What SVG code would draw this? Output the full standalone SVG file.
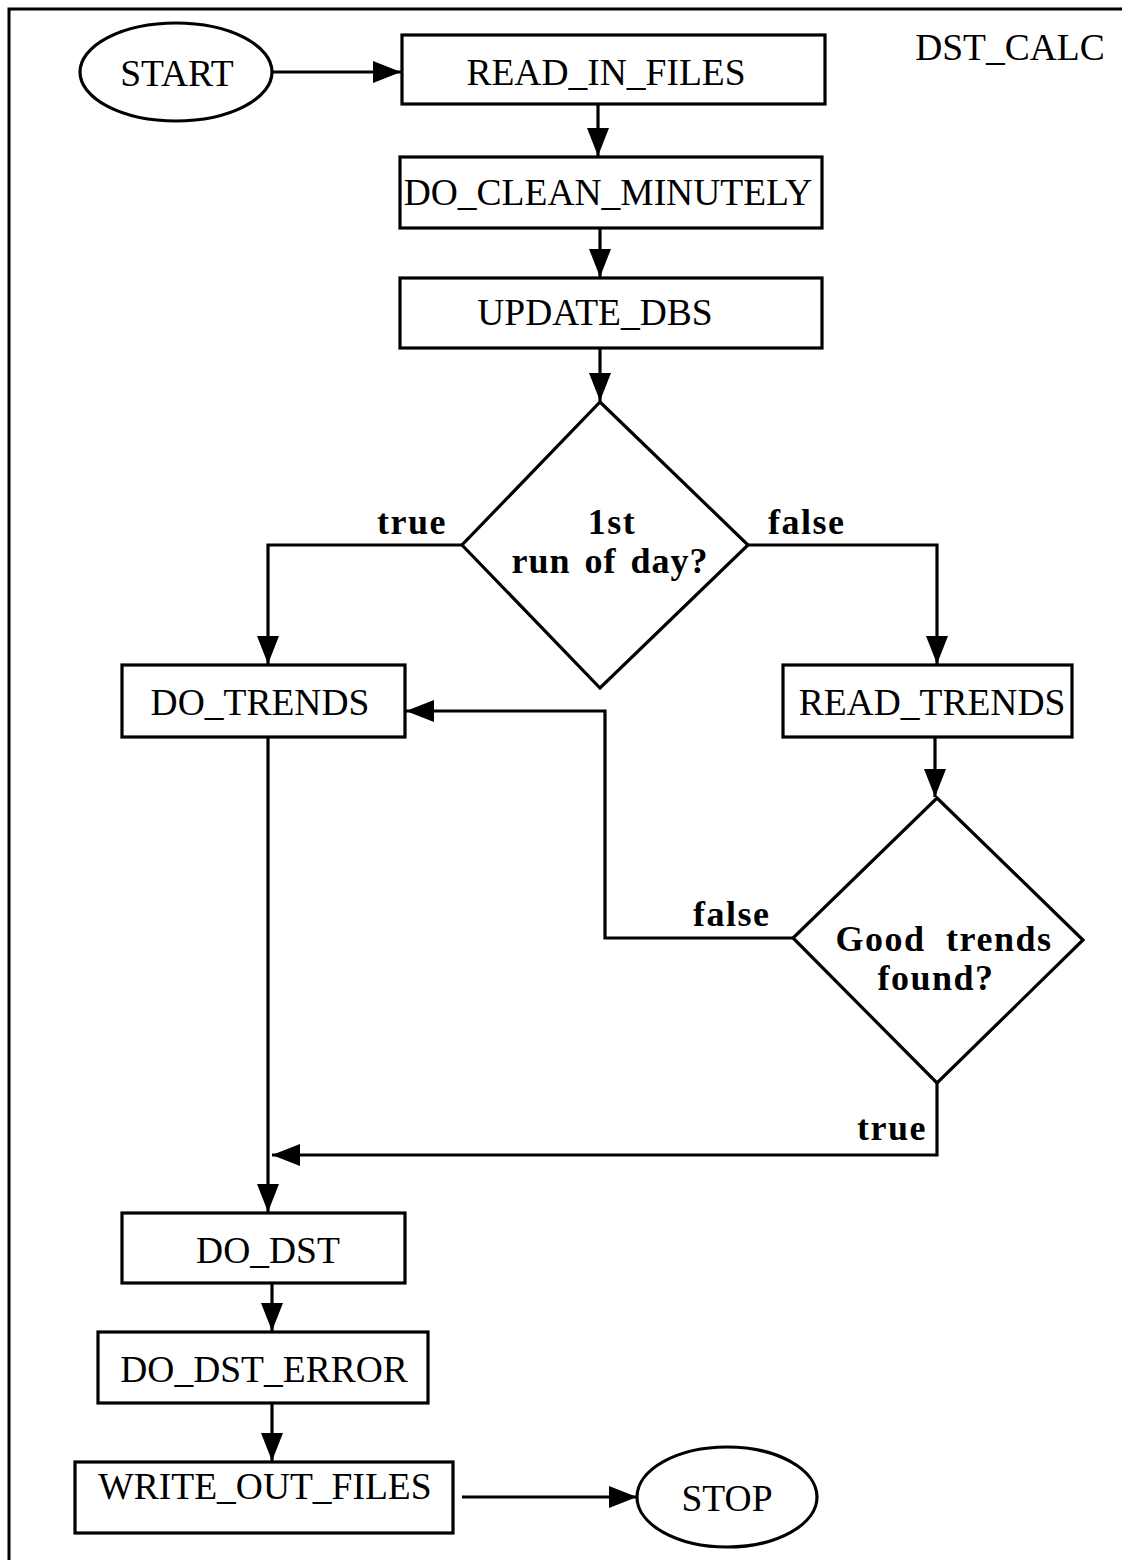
<svg xmlns="http://www.w3.org/2000/svg" width="1122" height="1560" viewBox="0 0 1122 1560">
<style>
.box{fill:#fff;stroke:#000;stroke-width:3.2}
.lbl{font-family:"Liberation Serif","Times New Roman",serif;font-size:37.5px;fill:#000;text-anchor:middle}
.bold{font-family:"Liberation Serif","Times New Roman",serif;font-size:36px;font-weight:bold;fill:#000;word-spacing:10px;letter-spacing:1.5px}
.edge{fill:none;stroke:#000;stroke-width:3.2}
</style>
<defs>
<marker id="arr" viewBox="0 0 28 22" refX="28" refY="11" markerWidth="28" markerHeight="22" markerUnits="userSpaceOnUse" orient="auto">
<path d="M0,0 L28,11 L0,22 Z" fill="#000"/>
</marker>
</defs>
<rect width="1122" height="1560" fill="#fff"/>
<path d="M9,1560 V9 H1122" fill="none" stroke="#000" stroke-width="3"/>
<text class="lbl" x="1010" y="60">DST_CALC</text>

<g id="connectors">
<path class="edge" d="M272,72 H401" marker-end="url(#arr)"/>
<path class="edge" d="M598,104 V156" marker-end="url(#arr)"/>
<path class="edge" d="M600,228 V277" marker-end="url(#arr)"/>
<path class="edge" d="M600,348 V401" marker-end="url(#arr)"/>
<path class="edge" d="M462,545 H268 V664" marker-end="url(#arr)"/>
<path class="edge" d="M748,545 H937 V664" marker-end="url(#arr)"/>
<path class="edge" d="M935,737 V797" marker-end="url(#arr)"/>
<path class="edge" d="M793,938 H605 V711 H406" marker-end="url(#arr)"/>
<path class="edge" d="M937,1083 V1155 H272" marker-end="url(#arr)"/>
<path class="edge" d="M268,737 V1212" marker-end="url(#arr)"/>
<path class="edge" d="M272,1283 V1331" marker-end="url(#arr)"/>
<path class="edge" d="M272,1403 V1461" marker-end="url(#arr)"/>
<path class="edge" d="M462,1497 H637" marker-end="url(#arr)"/>
<text class="bold" x="377" y="534">true</text>
<text class="bold" x="768" y="534">false</text>
<text class="bold" x="693" y="926">false</text>
<text class="bold" x="857" y="1140">true</text>
</g>

<g id="start">
<ellipse class="box" cx="176" cy="72" rx="96" ry="49"/>
<text class="lbl" x="177" y="86">START</text>
</g>
<g id="read_in_files">
<rect class="box" x="402" y="35" width="423" height="69"/>
<text class="lbl" x="606" y="85">READ_IN_FILES</text>
</g>
<g id="do_clean_minutely">
<rect class="box" x="400" y="157" width="422" height="71"/>
<text class="lbl" x="608" y="205">DO_CLEAN_MINUTELY</text>
</g>
<g id="update_dbs">
<rect class="box" x="400" y="278" width="422" height="70"/>
<text class="lbl" x="595" y="325">UPDATE_DBS</text>
</g>
<g id="first_run">
<polygon class="box" points="600,402 748,545 600,688 462,545"/>
<text class="bold" x="612" y="534" text-anchor="middle">1st</text>
<text class="bold" x="610" y="573" text-anchor="middle" style="word-spacing:4px;letter-spacing:1px">run of day?</text>
</g>
<g id="do_trends">
<rect class="box" x="122" y="665" width="283" height="72"/>
<text class="lbl" x="260" y="715">DO_TRENDS</text>
</g>
<g id="read_trends">
<rect class="box" x="783" y="665" width="289" height="72"/>
<text class="lbl" x="932" y="715">READ_TRENDS</text>
</g>
<g id="good_trends">
<polygon class="box" points="937,798 1083,940 937,1083 793,938"/>
<text class="bold" x="944" y="951" text-anchor="middle">Good trends</text>
<text class="bold" x="936" y="990" text-anchor="middle">found?</text>
</g>
<g id="do_dst">
<rect class="box" x="122" y="1213" width="283" height="70"/>
<text class="lbl" x="268" y="1263">DO_DST</text>
</g>
<g id="do_dst_error">
<rect class="box" x="98" y="1332" width="330" height="71"/>
<text class="lbl" x="264" y="1382">DO_DST_ERROR</text>
</g>
<g id="write_out_files">
<rect class="box" x="75" y="1462" width="378" height="71"/>
<text class="lbl" x="265" y="1499">WRITE_OUT_FILES</text>
</g>
<g id="stop">
<ellipse class="box" cx="727" cy="1497" rx="90" ry="50"/>
<text class="lbl" x="727" y="1511">STOP</text>
</g>
</svg>
